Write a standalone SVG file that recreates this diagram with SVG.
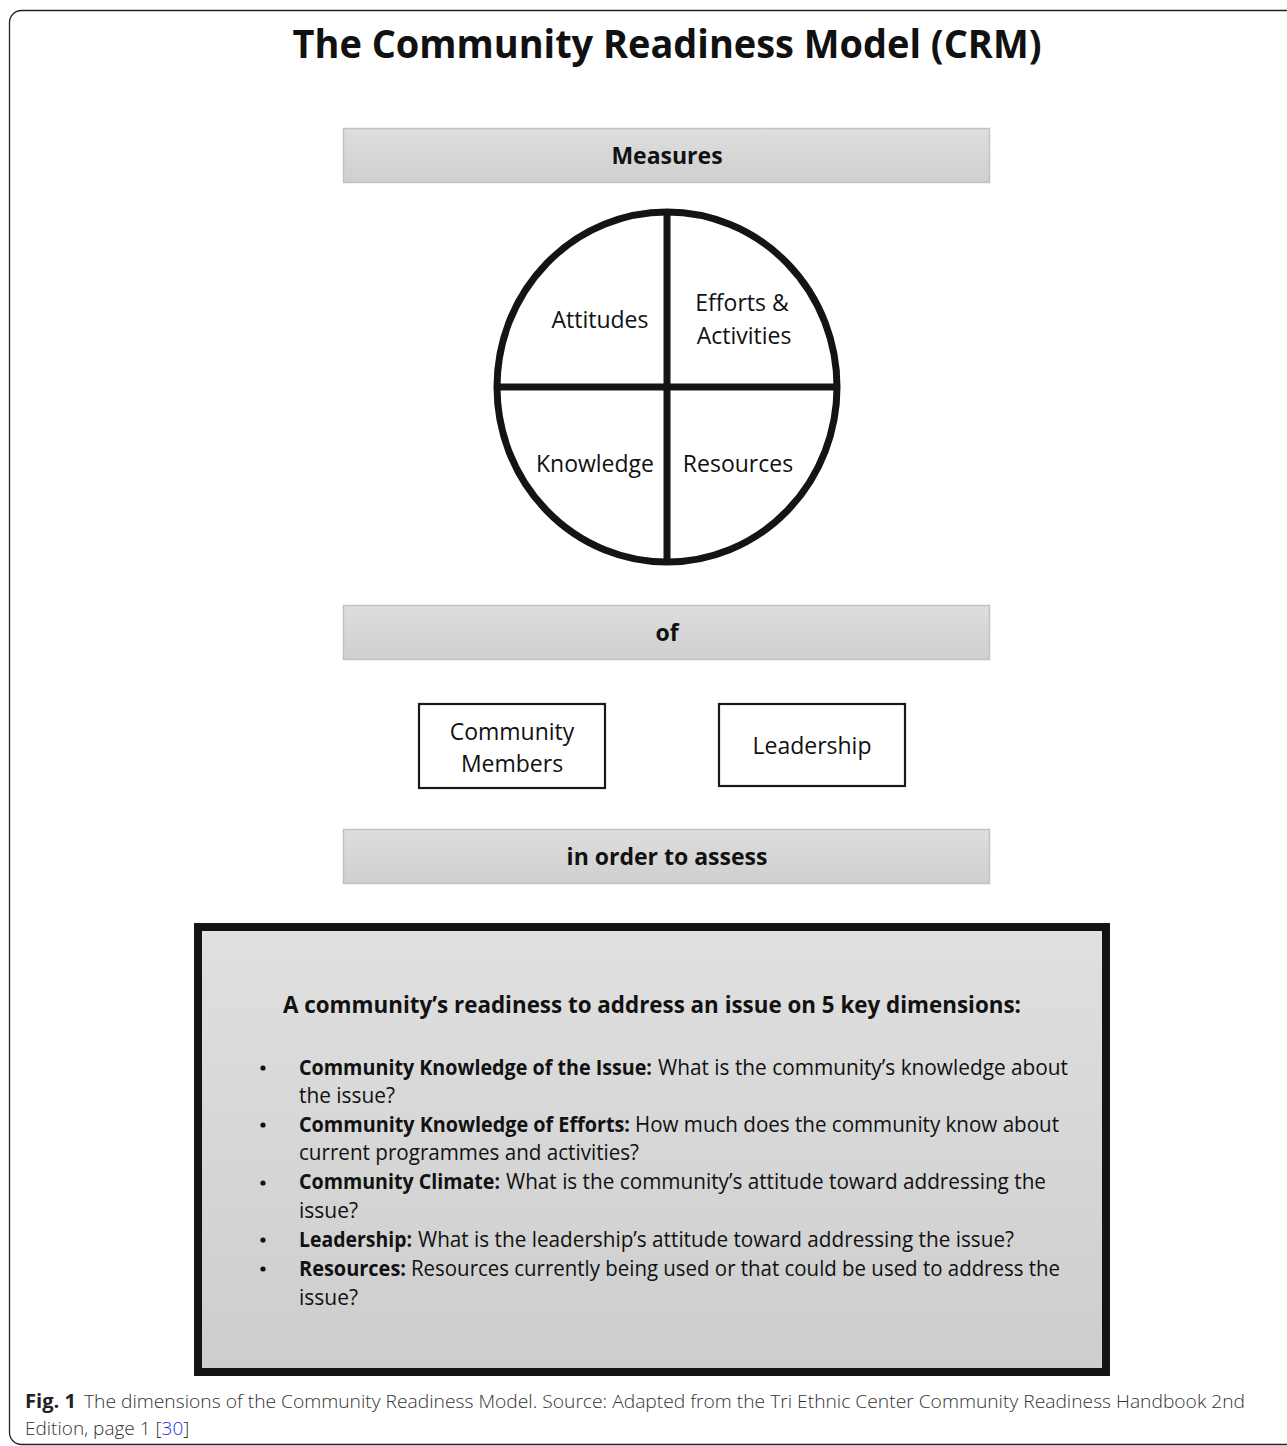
<svg xmlns="http://www.w3.org/2000/svg" width="1287" height="1446" viewBox="0 0 1287 1446">
<defs>
<linearGradient id="barGrad" x1="0" y1="0" x2="0" y2="1">
<stop offset="0" stop-color="#dedede"/>
<stop offset="1" stop-color="#cfcfcf"/>
</linearGradient>
<linearGradient id="boxGrad" x1="0" y1="0" x2="0" y2="1">
<stop offset="0" stop-color="#dfe0df"/>
<stop offset="1" stop-color="#cdcdcd"/>
</linearGradient>
</defs>
<style>
text{font-family:"Open Sans","Liberation Sans",sans-serif;fill:#111}
.title{font-size:40px;font-weight:700;text-anchor:middle}
.bar{fill:url(#barGrad);stroke:#c2c2c2;stroke-width:1.5}
.barT{font-size:23px;font-weight:700;text-anchor:middle}
.lbl{font-size:23px;text-anchor:middle}
.box{fill:#fff;stroke:#1a1a1a;stroke-width:2.2}
.line{stroke:#141414;stroke-width:7;fill:none}
.b{font-size:21px;font-weight:700}
.r{font-size:21px}
.cap{font-size:19px;fill:#333;font-weight:300}
.capb{font-size:19px;font-weight:700;fill:#222}
</style>
<rect x="9.5" y="10.5" width="1300" height="1434" rx="12" fill="#fff" stroke="#222" stroke-width="1.3"/>
<text class="title" x="667" y="58" textLength="749" lengthAdjust="spacingAndGlyphs">The Community Readiness Model (CRM)</text>

<g id="measures">
<rect class="bar" x="343.5" y="128.5" width="646" height="54"/>
<text class="barT" x="667" y="164">Measures</text>
</g>

<g id="circle">
<ellipse class="line" cx="667" cy="387" rx="170" ry="175"/>
<line class="line" x1="667" y1="212" x2="667" y2="562"/>
<line class="line" x1="497" y1="387" x2="837" y2="387"/>
<text class="lbl" x="600" y="328">Attitudes</text>
<text class="lbl" x="742" y="311">Efforts &amp;</text>
<text class="lbl" x="744" y="344">Activities</text>
<text class="lbl" x="595" y="472">Knowledge</text>
<text class="lbl" x="738" y="472">Resources</text>
</g>

<g id="of">
<rect class="bar" x="343.5" y="605.5" width="646" height="54"/>
<text class="barT" x="667" y="641">of</text>
</g>

<g id="community-members">
<rect class="box" x="419" y="704" width="186" height="84"/>
<text class="lbl" x="512" y="740">Community</text>
<text class="lbl" x="512" y="772">Members</text>
</g>

<g id="leadership">
<rect class="box" x="719" y="704" width="186" height="82"/>
<text class="lbl" x="812" y="754">Leadership</text>
</g>

<g id="assess">
<rect class="bar" x="343.5" y="829.5" width="646" height="54"/>
<text class="barT" x="667" y="865">in order to assess</text>
</g>

<g id="dimensions">
<rect x="198" y="927" width="908" height="445" fill="url(#boxGrad)" stroke="#141414" stroke-width="8"/>
<text class="barT" x="652" y="1013" textLength="738" lengthAdjust="spacingAndGlyphs">A community’s readiness to address an issue on 5 key dimensions:</text>
<g class="bullets" fill="#111">
<circle cx="263" cy="1068" r="2.6"/>
<circle cx="263" cy="1125" r="2.6"/>
<circle cx="263" cy="1183" r="2.6"/>
<circle cx="263" cy="1240" r="2.6"/>
<circle cx="263" cy="1269" r="2.6"/>
</g>
<text class="b" x="299" y="1075" textLength="353" lengthAdjust="spacingAndGlyphs">Community Knowledge of the Issue:</text>
<text class="r" x="658" y="1075" textLength="410" lengthAdjust="spacingAndGlyphs">What is the community’s knowledge about</text>
<text class="r" x="299" y="1103" textLength="96" lengthAdjust="spacingAndGlyphs">the issue?</text>
<text class="b" x="299" y="1132" textLength="331" lengthAdjust="spacingAndGlyphs">Community Knowledge of Efforts:</text>
<text class="r" x="635" y="1132" textLength="424" lengthAdjust="spacingAndGlyphs">How much does the community know about</text>
<text class="r" x="299" y="1160" textLength="340" lengthAdjust="spacingAndGlyphs">current programmes and activities?</text>
<text class="b" x="299" y="1189" textLength="201" lengthAdjust="spacingAndGlyphs">Community Climate:</text>
<text class="r" x="506" y="1189" textLength="540" lengthAdjust="spacingAndGlyphs">What is the community’s attitude toward addressing the</text>
<text class="r" x="299" y="1218" textLength="59" lengthAdjust="spacingAndGlyphs">issue?</text>
<text class="b" x="299" y="1247" textLength="113" lengthAdjust="spacingAndGlyphs">Leadership:</text>
<text class="r" x="418" y="1247" textLength="596" lengthAdjust="spacingAndGlyphs">What is the leadership’s attitude toward addressing the issue?</text>
<text class="b" x="299" y="1276" textLength="107" lengthAdjust="spacingAndGlyphs">Resources:</text>
<text class="r" x="411" y="1276" textLength="649" lengthAdjust="spacingAndGlyphs">Resources currently being used or that could be used to address the</text>
<text class="r" x="299" y="1305" textLength="59" lengthAdjust="spacingAndGlyphs">issue?</text>
</g>

<g id="caption">
<text class="capb" x="25" y="1408" textLength="51" lengthAdjust="spacingAndGlyphs">Fig. 1</text>
<text class="cap" x="84" y="1408" textLength="1161" lengthAdjust="spacingAndGlyphs">The dimensions of the Community Readiness Model. Source: Adapted from the Tri Ethnic Center Community Readiness Handbook 2nd</text>
<text class="cap" x="25" y="1435">Edition, page 1 [<tspan fill="#1a33e6">30</tspan>]</text>
</g>
</svg>
